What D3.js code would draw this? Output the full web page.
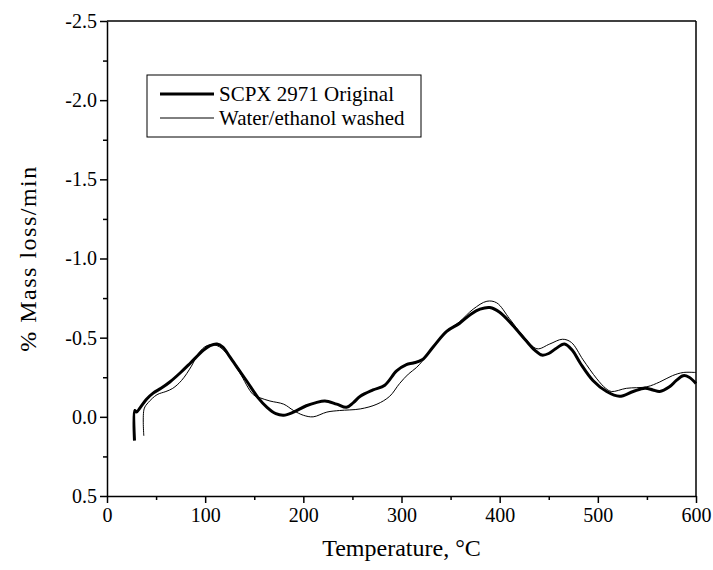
<!DOCTYPE html>
<html>
<head>
<meta charset="utf-8">
<script src="https://cdn.jsdelivr.net/npm/d3@7"></script>
<style>
  body { margin: 0; background: #fff; }
  svg text { font-family: "Times New Roman", "Liberation Serif", Tinos, "DejaVu Serif", serif; }
</style>
</head>
<body>
<svg></svg>
<script>
// x: temperature (C), y: % mass loss/min (axis reversed, negative up)

const xTicks = [0, 100, 200, 300, 400, 500, 600];
const yTicks = [0.5, 0.0, -0.5, -1.0, -1.5, -2.0, -2.5];
const seriesNames = ["SCPX 2971 Original", "Water/ethanol washed"];

// SCPX 2971 Original
const original = [
  [28, 0.15], [28.3, -0.04], [30, -0.03], [34, -0.06], [40, -0.11], [47, -0.15],
  [55, -0.18], [64, -0.22], [75, -0.28], [85, -0.34], [98, -0.42], [105, -0.45],
  [112, -0.46], [118, -0.44], [125, -0.38], [134, -0.30], [143, -0.22], [154, -0.12],
  [163, -0.06], [172, -0.02], [180, -0.01], [190, -0.03], [203, -0.07], [213, -0.09],
  [222, -0.10], [234, -0.08], [244, -0.06], [251, -0.09], [258, -0.13], [271, -0.17],
  [283, -0.20], [295, -0.29], [305, -0.33], [312, -0.34], [321, -0.36], [332, -0.44],
  [346, -0.54], [359, -0.59], [371, -0.65], [380, -0.68], [390, -0.69], [400, -0.66],
  [413, -0.58], [427, -0.48], [436, -0.42], [443, -0.39], [450, -0.40], [457, -0.43],
  [466, -0.46], [474, -0.42], [482, -0.34], [495, -0.23], [509, -0.16], [522, -0.13],
  [536, -0.16], [548, -0.18], [556, -0.17], [563, -0.16], [573, -0.19], [580, -0.23],
  [587, -0.26], [593, -0.25], [600, -0.21]
];

// Water/ethanol washed
const washed = [
  [37.5, 0.12], [37.8, -0.05], [42, -0.09], [51, -0.14], [60, -0.16], [67, -0.18],
  [76, -0.23], [86, -0.32], [93, -0.40], [102, -0.45], [112, -0.45], [122, -0.40],
  [135, -0.28], [149, -0.14], [156, -0.12], [166, -0.10], [180, -0.08], [190, -0.04],
  [200, -0.01], [210, 0.00], [224, -0.03], [237, -0.04], [258, -0.05], [275, -0.08],
  [288, -0.13], [298, -0.21], [307, -0.27], [315, -0.31], [321, -0.35], [332, -0.44],
  [346, -0.54], [359, -0.60], [373, -0.68], [387, -0.73], [397, -0.72], [410, -0.62],
  [424, -0.51], [438, -0.43], [451, -0.46], [464, -0.49], [473, -0.47], [485, -0.36],
  [499, -0.24], [508, -0.18], [514, -0.16], [529, -0.18], [550, -0.19], [563, -0.22],
  [576, -0.26], [587, -0.28], [600, -0.28]
];

const width = 713;
const height = 570;
const margin = { top: 21, right: 17, bottom: 74, left: 107 };

const svg = d3.select("svg")
    .attr("width", width)
    .attr("height", height);

const xScale = d3.scaleLinear()
    .domain([0, 600])
    .range([margin.left, width - margin.right]);

const yScale = d3.scaleLinear()
    .domain([0.5, -2.5])
    .range([height - margin.bottom, margin.top]);

// minor ticks first, majors on top
svg.append("g")
    .attr("transform", `translate(0,${height - margin.bottom})`)
    .call(d3.axisBottom(xScale).tickValues(d3.range(50, 600, 100)).tickSize(4).tickFormat(""))
    .call(g => g.select(".domain").remove());

svg.append("g")
    .attr("transform", `translate(${margin.left},0)`)
    .call(d3.axisLeft(yScale).tickValues(d3.range(-2.25, 0.5, 0.5)).tickSize(4).tickFormat(""))
    .call(g => g.select(".domain").remove());

const xAxis = svg.append("g")
    .attr("transform", `translate(0,${height - margin.bottom})`)
    .call(d3.axisBottom(xScale).tickValues(xTicks).tickSize(7).tickSizeOuter(0).tickPadding(5));

const yAxis = svg.append("g")
    .attr("transform", `translate(${margin.left},0)`)
    .call(d3.axisLeft(yScale).tickValues(yTicks).tickSize(7).tickSizeOuter(0).tickPadding(3)
        .tickFormat(d3.format(".1f")));

svg.selectAll("g").attr("font-family", null);
svg.selectAll(".tick line").attr("stroke", "#000").attr("stroke-width", 1.5);
svg.selectAll(".domain").attr("stroke-width", 1.5);
svg.selectAll(".tick text")
    .attr("font-size", 20)
    .attr("fill", "#000");
yAxis.selectAll(".tick text").text(d => d3.format(".1f")(d).replace("\u2212", "-"));

// frame top and right
svg.append("line")
    .attr("x1", margin.left).attr("x2", width - margin.right)
    .attr("y1", margin.top).attr("y2", margin.top)
    .attr("stroke", "#000").attr("stroke-width", 1.5);
svg.append("line")
    .attr("x1", width - margin.right).attr("x2", width - margin.right)
    .attr("y1", margin.top).attr("y2", height - margin.bottom)
    .attr("stroke", "#000").attr("stroke-width", 1.5);

const line = d3.line()
    .x(d => xScale(d[0]))
    .y(d => yScale(d[1]))
    .curve(d3.curveCatmullRom.alpha(0.5));

svg.append("path")
    .datum(washed)
    .attr("fill", "none")
    .attr("stroke", "#000")
    .attr("stroke-width", 1)
    .attr("d", line);

svg.append("path")
    .datum(original)
    .attr("fill", "none")
    .attr("stroke", "#000")
    .attr("stroke-width", 3)
    .attr("stroke-linejoin", "round")
    .attr("d", line);

// legend
const legend = svg.append("g").attr("transform", "translate(147,75)");
legend.append("rect")
    .attr("width", 274).attr("height", 62)
    .attr("fill", "#fff").attr("stroke", "#000").attr("stroke-width", 1);
[3, 1].forEach((w, i) => {
  legend.append("line")
      .attr("x1", 13).attr("x2", 67)
      .attr("y1", 19 + i * 24).attr("y2", 19 + i * 24)
      .attr("stroke", "#000").attr("stroke-width", w);
  legend.append("text")
      .attr("x", 72).attr("y", 19 + i * 24).attr("dy", "0.35em")
      .attr("font-size", 21)
      .text(seriesNames[i]);
});

svg.append("text")
    .attr("x", (margin.left + width - margin.right) / 2)
    .attr("y", 556)
    .style("text-anchor", "middle")
    .attr("font-size", 24)
    .text("Temperature, \u00B0C");

svg.append("text")
    .attr("transform", `translate(36,${(margin.top + height - margin.bottom) / 2}) rotate(-90)`)
    .style("text-anchor", "middle")
    .attr("font-size", 24)
    .attr("letter-spacing", 1.5)
    .text("% Mass loss/min");
</script>
</body>
</html>
